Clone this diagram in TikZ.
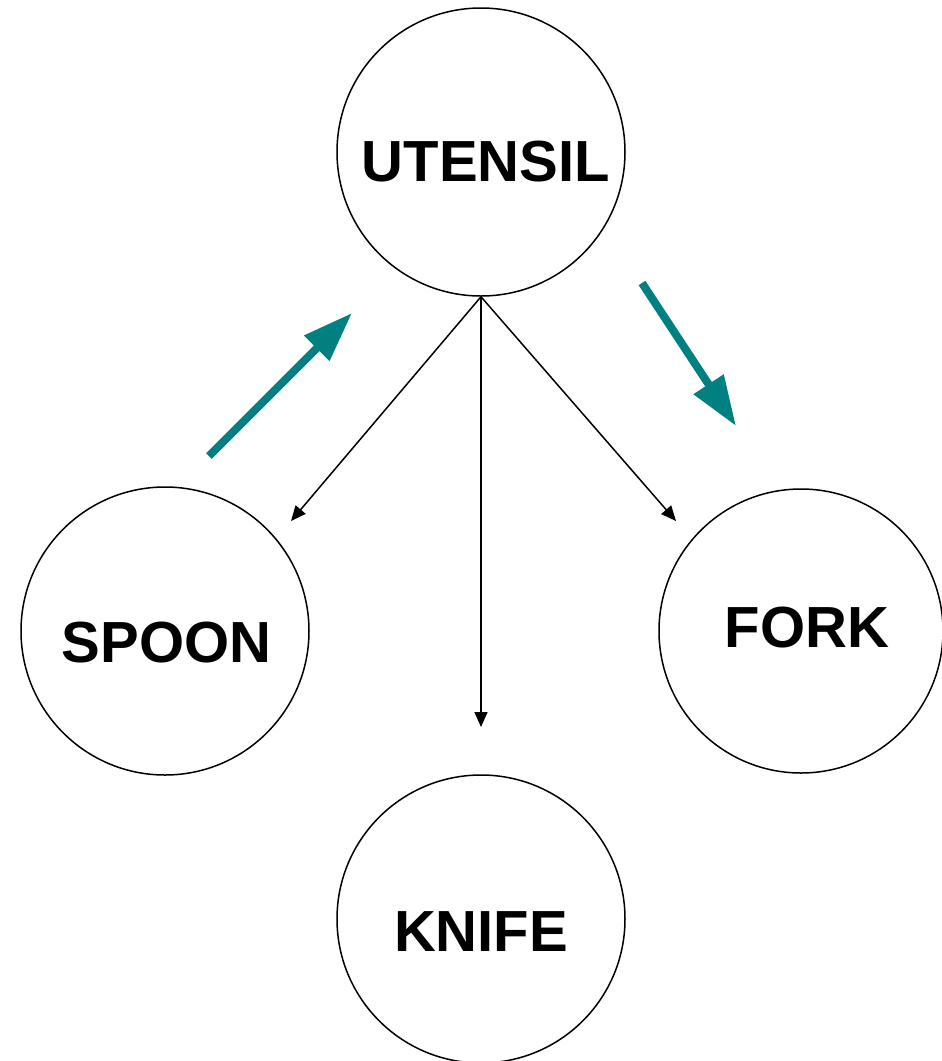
\documentclass[tikz,border=0pt]{standalone}
\usepackage{fontspec}
\setmainfont{Liberation Sans}
\usetikzlibrary{arrows.meta}
\definecolor{tealarrow}{RGB}{0,128,128}
\tikzset{
  circ/.style={draw=black, line width=1.5pt, circle, minimum size=#1, inner sep=0pt},
  lbl/.style={font=\fontsize{58}{60}\selectfont\bfseries, inner sep=0pt, anchor=base},
  thin arrow/.style={draw=black, line width=1.5pt, -{Triangle[length=15pt,width=13pt]}},
  teal arrow/.style={draw=tealarrow, line width=8pt, -{Triangle[length=50pt,width=34pt]}}
}
\begin{document}
\begin{tikzpicture}[x=1pt,y=-1pt]
\useasboundingbox (0,0) rectangle (942,1061);
\clip (0,0) rectangle (942,1061);
\node[circ=288pt] (utensil) at (481,152) {};
\node[circ=288pt] (spoon) at (165,631) {};
\node[circ=284pt] (fork) at (801,631) {};
\node[circ=288pt] (knife) at (481,919) {};
\node[lbl] (tu) at (486,181) {UTENSIL};
\node[lbl] (ts) at (166.5,662) {SPOON};
\node[lbl] (tf) at (807,647) {FORK};
\node[lbl] (tk) at (481,951) {KNIFE};
\coordinate (a1) at (291,521);
\coordinate (a2) at (481,727);
\coordinate (a3) at (676,521);
\draw[thin arrow] (utensil.south) -- (a1);
\draw[thin arrow] (utensil.south) -- (a2);
\draw[thin arrow] (utensil.south) -- (a3);
\coordinate (t1s) at (209,456);
\coordinate (t1e) at (352,313);
\coordinate (t2s) at (642,283);
\coordinate (t2e) at (736,426);
\draw[teal arrow] (t1s) -- (t1e);
\draw[teal arrow] (t2s) -- (t2e);
\end{tikzpicture}
\end{document}
